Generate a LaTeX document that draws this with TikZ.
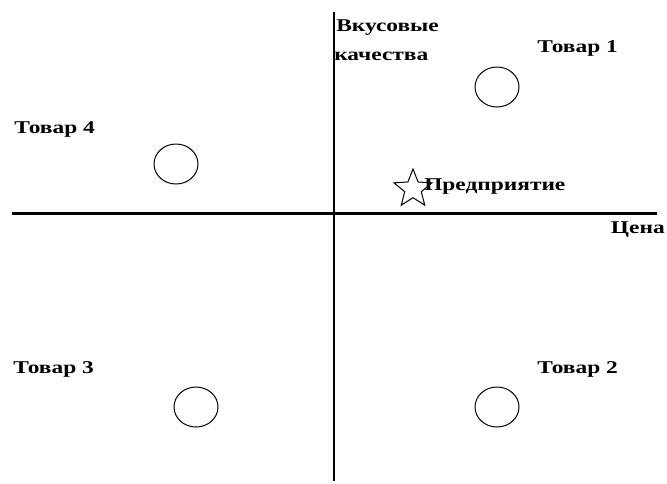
\documentclass[tikz,border=0pt]{standalone}
\usepackage{fontspec}
\setmainfont{Liberation Serif}
\usetikzlibrary{shapes.geometric}
\begin{document}
\begin{tikzpicture}[x=1pt,y=-1pt,
  lbl/.style={font=\fontsize{18}{20}\selectfont\bfseries, inner sep=0pt, anchor=west, xscale=1.3},
  good/.style={draw, ellipse, minimum width=44pt, minimum height=40pt, line width=1pt, inner sep=0pt}]
\useasboundingbox (0,0) rectangle (667,483);
\coordinate (hl) at (12,213);
\coordinate (hr) at (657,213);
\coordinate (vt) at (334,12);
\coordinate (vb) at (334,481);
\draw[line width=3pt] (hl) -- (hr);
\draw[line width=2pt] (vt) -- (vb);
\node[good] (c1) at (497,87) {};
\node[good] (c4) at (176,164) {};
\node[good] (c3) at (196,407) {};
\node[good] (c2) at (497,407) {};
\node[lbl] (t1) at (537,48) {Товар 1};
\node[lbl] (t4) at (14,129) {Товар 4};
\node[lbl] (t3) at (13,369) {Товар 3};
\node[lbl] (t2) at (537,369) {Товар 2};
\node[lbl] (v1) at (336,28) {Вкусовые};
\node[lbl] (v2) at (334,56) {качества};
\node[lbl, anchor=east] (ts) at (665,230) {Цена};
\node[draw, star, star points=5, star point ratio=2.3, minimum size=40pt, inner sep=0pt, line width=1pt] (st) at (413,189) {};
\node[lbl] (tp) at (424,187) {Предприятие};
\end{tikzpicture}
\end{document}
